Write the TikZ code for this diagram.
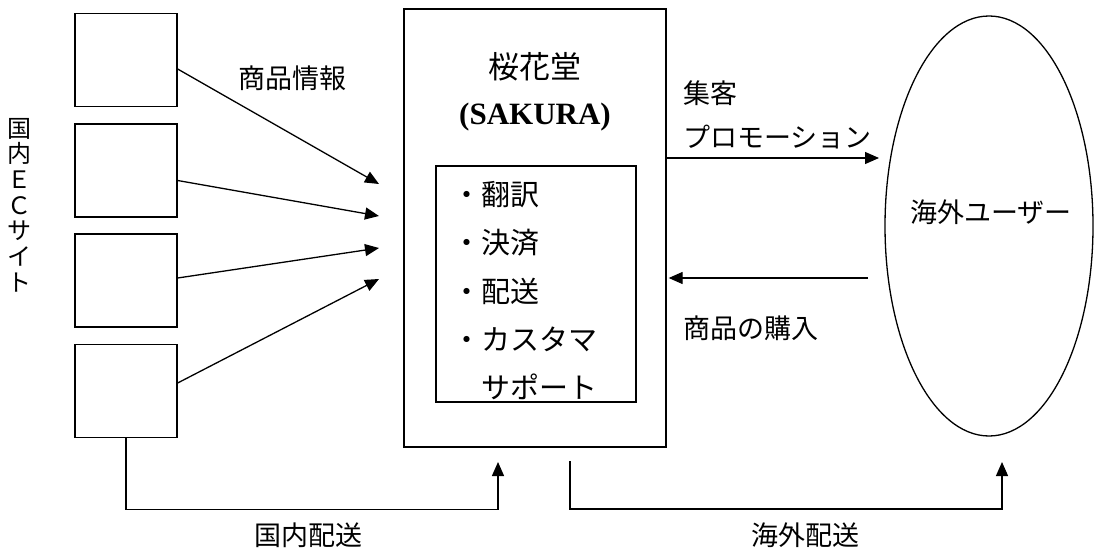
\documentclass[tikz,border=0pt]{standalone}
\usepackage{fontspec}
\setmainfont{Liberation Serif}
\newfontfamily\jp{Noto Sans CJK JP}
\usetikzlibrary{shapes.geometric,arrows.meta}

\tikzset{
  box/.style={draw, line width=1.3pt, minimum width=102pt, minimum height=93pt},
  arr/.style={line width=1.3pt, -{Triangle[length=14pt,width=12pt]}},
  lbl/.style={font=\jp\fontsize{27}{30}\selectfont, inner sep=0pt},
  item/.style={lbl, anchor=west, font=\jp\fontsize{29}{32}\selectfont},
}

\begin{document}
\begin{tikzpicture}[x=1pt,y=-1pt]
\useasboundingbox (0,0) rectangle (1094,548);

% EC sites
\node[box] (ec1) at (126,60) {};
\node[box] (ec2) at (126,170.5) {};
\node[box] (ec3) at (126,280.5) {};
\node[box] (ec4) at (126,391) {};
\node[lbl, align=center, font=\jp\fontsize{24}{25.7}\selectfont] (ecsite) at (20,205) {国\\内\\Ｅ\\Ｃ\\サ\\イ\\ト};

% SAKURA
\node[draw, line width=1.3pt, minimum width=262pt, minimum height=438pt] (sakura) at (535,228) {};
\node[draw, line width=1.3pt, minimum width=200pt, minimum height=236pt] (service) at (536,284) {};
\node[lbl, font=\jp\fontsize{31}{34}\selectfont] (name) at (535,67) {桜花堂};
\node[inner sep=0pt, font=\fontsize{31}{34}\selectfont\bfseries] (roman) at (535,117) {(SAKURA)};
\node[item] (s1) at (452.5,195) {・翻訳};
\node[item] (s2) at (452.5,243) {・決済};
\node[item] (s3) at (452.5,291) {・配送};
\node[item] (s4) at (452.5,339) {・カスタマ};
\node[item] (s5) at (452.5,387) {\hphantom{・}サポート};

% Users
\node[draw, ellipse, line width=1.3pt, inner sep=0pt, minimum width=208pt, minimum height=420pt] (user) at (989,226) {};
\node[lbl] (usertext) at (991,212) {海外ユーザー};

% Arrow ends
\coordinate (in1) at (379,184);
\coordinate (in2) at (379,216);
\coordinate (in3) at (379,248);
\coordinate (in4) at (379,279);
\coordinate (promo) at (879,158);
\coordinate (buy) at (868,278);
\coordinate (domto) at (498,462);
\coordinate (ovfrom) at (570,461);
\coordinate (ovto) at (1002,462);

% Arrows
\draw[arr] ([yshift=-9pt]ec1.east) -- (in1);
\draw[arr] ([yshift=-10pt]ec2.east) -- (in2);
\draw[arr] ([yshift=2.5pt]ec3.east) -- (in3);
\draw[arr] ([yshift=8pt]ec4.east) -- (in4);
\draw[arr] ([yshift=70pt]sakura.east) -- (promo);
\draw[arr] (buy) -- ([xshift=2pt,yshift=-50pt]sakura.east);
\draw[arr] (ec4.south) -- ++(0,71.5) -| (domto);
\draw[arr] (ovfrom) -- ++(0,48) -| (ovto);

% Labels
\node[lbl] (info) at (292,78) {商品情報};
\node[lbl, anchor=west] (attract) at (683,93) {集客};
\node[lbl, anchor=west] (promotext) at (683,137) {プロモーション};
\node[lbl, anchor=west] (buytext) at (683,328) {商品の購入};
\node[lbl] (domtext) at (308,535) {国内配送};
\node[lbl] (ovtext) at (805,535) {海外配送};

\end{tikzpicture}
\end{document}
